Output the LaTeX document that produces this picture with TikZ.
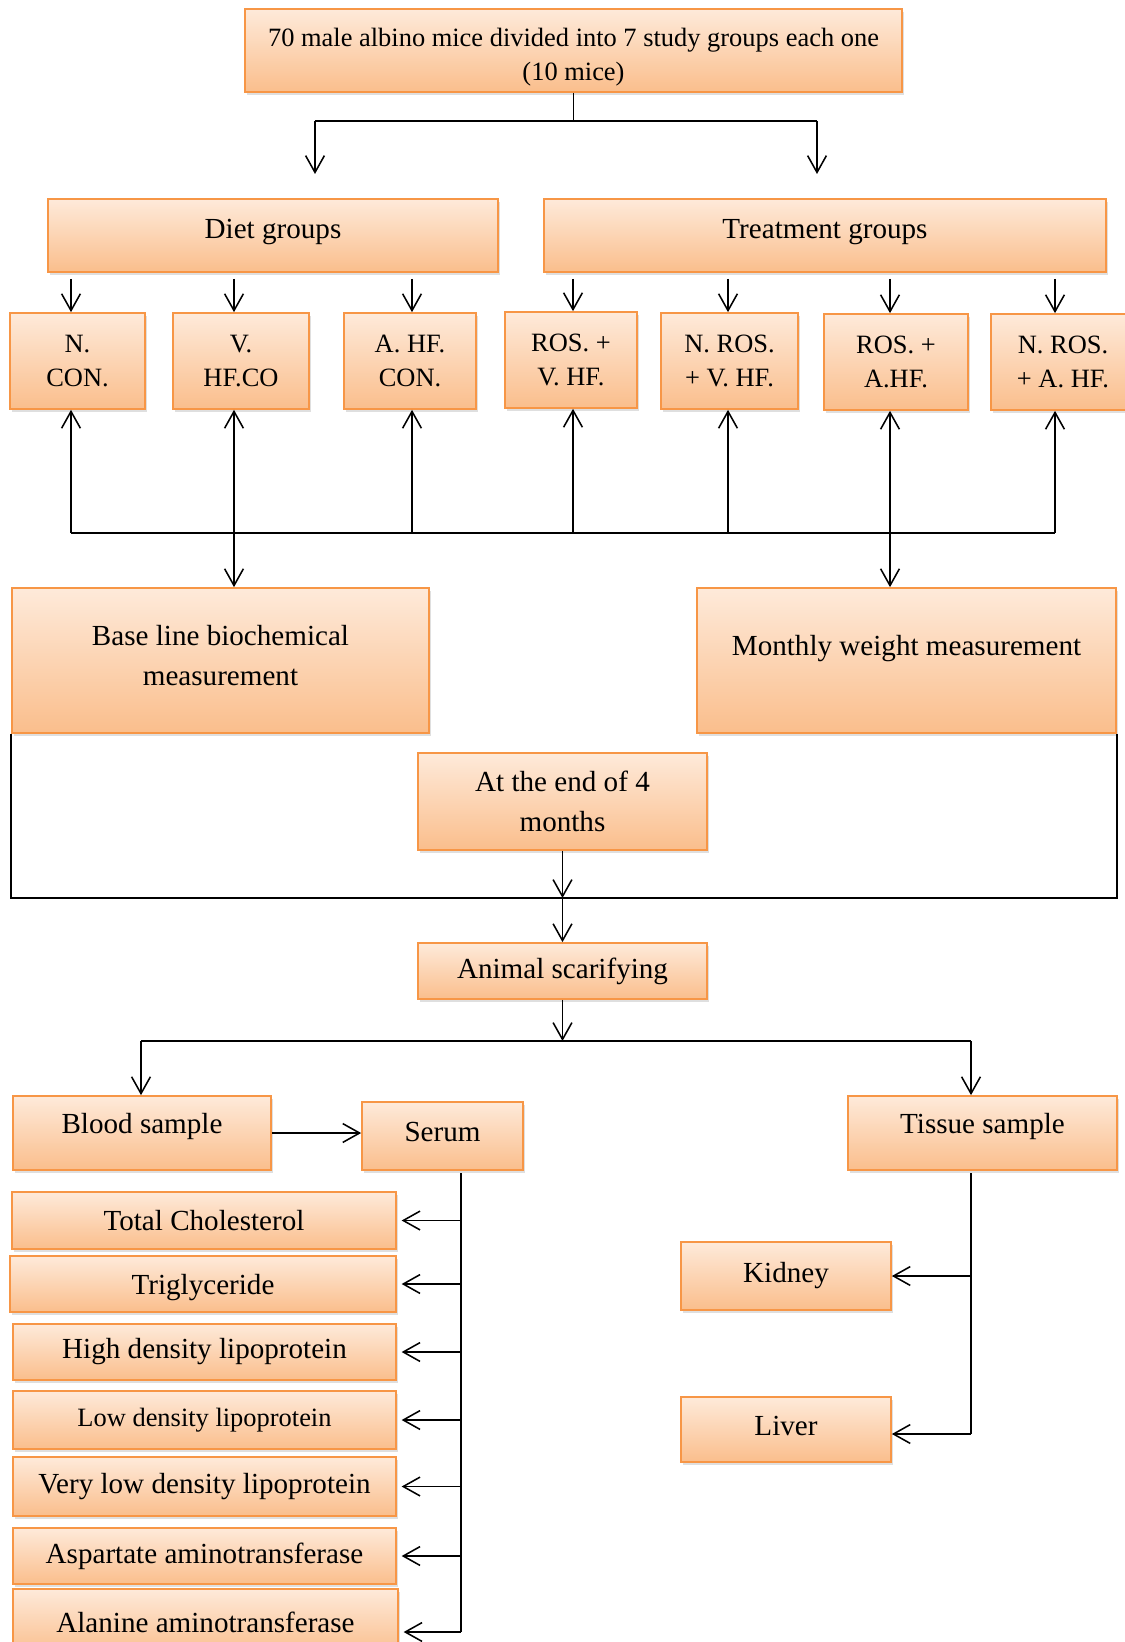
\documentclass[tikz,border=0pt]{standalone}
\usepackage{fontspec}
\setmainfont{Liberation Serif}
\usetikzlibrary{arrows.meta,shadows}
\definecolor{boxline}{RGB}{247,150,70}
\definecolor{boxtop}{RGB}{254,234,218}
\definecolor{boxbot}{RGB}{250,190,140}
\tikzset{
  box/.style={draw=boxline, line width=1.2pt, top color=boxtop, bottom color=boxbot,
    drop shadow={shadow xshift=0.04cm, shadow yshift=-0.08cm, opacity=0.25},
    inner sep=0pt, align=center, font=\fontsize{20.7}{28}\selectfont},
  small/.style={font=\fontsize{18.8}{24.3}\selectfont},
  wh/.style 2 args={minimum width=#1*0.025cm, minimum height=#2*0.025cm},
  ln/.style={line width=1.1pt},
  arr/.style={ln, -{Straight Barb[length=4.2mm,width=4.7mm]}}
}
\begin{document}
\begin{tikzpicture}[x=0.025cm,y=-0.025cm]
\useasboundingbox (0,0) rectangle (1124,1642);
%
% cajas: centro, ancho, alto
\node[box,small,wh={657}{83}] (1) at (573.5,50.5) {\rule{0pt}{22pt}70 male albino mice divided into 7 study groups each one\\(10 mice)};
\node[box,wh={450}{73},text depth=9pt] (2) at (273,235.5) {Diet groups};
\node[box,wh={562}{73},text depth=9pt] (3) at (825,235.5) {Treatment groups};
%
\node[box,small,wh={135}{96}] (4) at (77.5,361) {N.\\CON.};
\node[box,small,wh={136}{96}] (5) at (241,361) {V.\\HF.CO};
\node[box,small,wh={132}{96}] (6) at (410,361) {A. HF.\\CON.};
\node[box,small,wh={132}{96}] (7) at (571,360) {ROS. +\\V. HF.};
\node[box,small,wh={137}{96}] (8) at (729.5,361) {N. ROS.\\+ V. HF.};
\node[box,small,wh={144}{96}] (9) at (896,362) {ROS. +\\A.HF.};
\node[box,small,wh={144}{96}] (10) at (1063,362) {N. ROS.\\+ A. HF.};
%
\node[box,wh={417}{145}] (11) at (220.5,660.5) {Base line biochemical\\measurement\rule[-7pt]{0pt}{7pt}};
\node[box,wh={419}{145},text depth=22pt] (12) at (906.5,660.5) {Monthly weight measurement};
\node[box,wh={289}{97}] (13) at (562.5,801.5) {At the end of 4\\months};
\node[box,wh={289}{56}] (14) at (562.5,971) {Animal scarifying};
%
\node[box,wh={258}{74},text depth=13.5pt] (15) at (142,1133) {Blood sample};
\node[box,wh={161}{68},text depth=6pt] (16) at (442.5,1136) {Serum};
\node[box,wh={269}{74},text depth=13.5pt] (17) at (982.5,1133) {Tissue sample};
%
\node[box,wh={384}{57}] (18) at (204,1220.5) {Total Cholesterol};
\node[box,wh={386}{56},text height=20pt] (19) at (203,1284) {Triglyceride};
\node[box,wh={383}{56}] (20) at (204.5,1352) {High density lipoprotein};
\node[box,small,wh={383}{58}] (21) at (204.5,1420) {Low density lipoprotein};
\node[box,wh={383}{59}] (22) at (204.5,1486.5) {Very low density lipoprotein};
\node[box,wh={383}{56}] (23) at (204.5,1556) {Aspartate aminotransferase};
\node[box,wh={385}{66}] (24) at (205.5,1622) {Alanine aminotransferase};
%
\node[box,wh={210}{68}] (25) at (786,1276) {Kidney};
\node[box,wh={210}{65},text depth=4.5pt] (26) at (786,1429.5) {Liver};
%
% puntos de union
\coordinate (a1) at (315,121);
\coordinate (a2) at (817,121);
\coordinate (h1) at (71,533);
\coordinate (h2) at (1055,533);
\coordinate (j) at (562.5,898);
\coordinate (k1) at (141,1041);
\coordinate (k2) at (971,1041);
\coordinate (m1) at (461,1173);
\coordinate (m2) at (461,1632);
\coordinate (t1) at (971,1173);
\coordinate (t2) at (971,1434);
%
\draw[ln] (1.south) to (1.south |- a1);
\draw[ln] (a1) to (a2);
\draw[arr] (a1) to ++(0,53);
\draw[arr] (a2) to ++(0,53);
%
% flechas cortas y flechas desde la linea
\foreach \i/\x in {4/71,5/234,6/412,7/573,8/728,9/890,10/1055} {
  \draw[arr] (\x,279) to (\x,0 |- \i.north);
  \draw[arr] (\x,0 |- h1) to (\x,0 |- \i.south);
}
\draw[ln] (h1) to (h2);
\draw[arr] (234,533) to (234,0 |- 11.north);
\draw[arr] (890,533) to (890,0 |- 12.north);
%
\draw[ln] (11.south west) |- (j) -| (12.south east);
\draw[arr] (13.south) to (j);
\draw[arr] (j) to (14.north);
%
\draw[arr] (14.south) to (14.south |- k1);
\draw[ln] (k1) to (k2);
\draw[arr] (k1) to (k1 |- 15.north);
\draw[arr] (k2) to (k2 |- 17.north);
\draw[arr] (15.east) to (16.west |- 15.east);
%
\draw[ln] (m1) to (m2);
\foreach \i in {18,19,20,21,22,23} {\draw[arr,shorten >=0.12cm] (m1 |- \i.east) to (\i.east);}
\draw[arr,shorten >=0.12cm] (m2) to (m2 -| 24.east);
%
\draw[ln] (t1) to (t2);
\draw[arr] (t1 |- 25.east) to (25.east);
\draw[arr] (t2) to (t2 -| 26.east);
%
\end{tikzpicture}
\end{document}
